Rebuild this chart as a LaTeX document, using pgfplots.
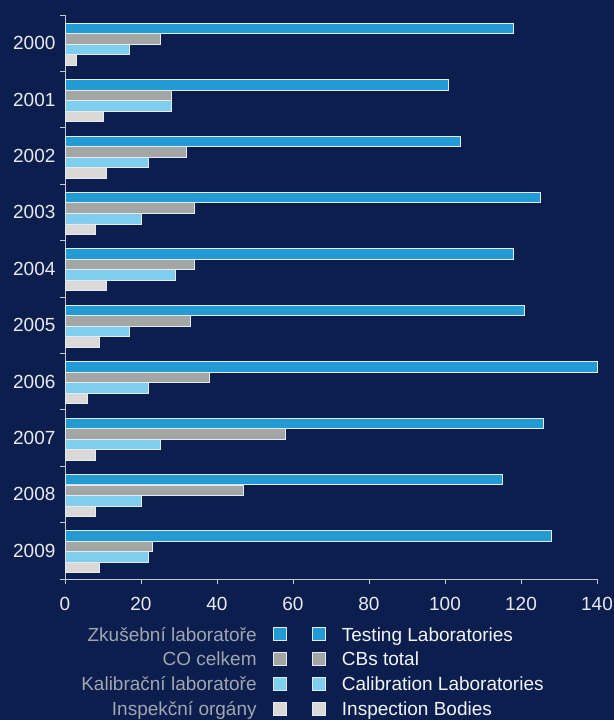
\documentclass[border=0pt]{standalone}
\usepackage{fontspec}
\setmainfont{Liberation Sans}
\usepackage{pgfplots}
\usepackage{pgfplotstable}
\pgfplotsset{compat=1.18}

\definecolor{bgnavy}{RGB}{12,30,77}
\definecolor{ctest}{RGB}{34,155,212}
\definecolor{ccbs}{RGB}{163,166,164}
\definecolor{ccalib}{RGB}{128,206,238}
\definecolor{cinsp}{RGB}{218,217,215}
\definecolor{cedge}{RGB}{228,234,242}
\definecolor{axisgray}{RGB}{196,200,210}
\definecolor{ticktext}{RGB}{232,234,240}
\definecolor{cztext}{RGB}{160,165,176}
\definecolor{entext}{RGB}{242,244,248}

\newcommand\chartfont{\fontsize{19bp}{22bp}\selectfont}

% pos = place on the y axis (2000 at the top)
\pgfplotstableread{
pos year test cbs calib insp
10 2000 118 25 17 3
9  2001 101 28 28 10
8  2002 104 32 22 11
7  2003 125 34 20 8
6  2004 118 34 29 11
5  2005 121 33 17 9
4  2006 140 38 22 6
3  2007 126 58 25 8
2  2008 115 47 20 8
1  2009 128 23 22 9
}\data

\pgfplotsset{
  sqlegend/.style={legend image code/.code={\draw[##1] (0bp,-6.5bp) rectangle (13bp,6.5bp);}},
  barstyle/.style={fill=#1, draw=cedge, line width=0.9bp, sqlegend},
}

\begin{document}
\begin{tikzpicture}
\fill[bgnavy] (0,0) rectangle (614bp,720bp);
\useasboundingbox (0,0) rectangle (614bp,720bp);
\begin{axis}[
    at={(65bp,141bp)}, anchor=south west,
    scale only axis, width=532bp, height=564bp,
    xbar, bar width=0.186,
    xmin=0, xmax=140, ymin=0.5, ymax=10.5,
    clip=false,
    axis lines*=left,
    axis line style={draw=axisgray, line width=0.9bp},
    xtick={0,20,...,140},
    ytick={0.5,1.5,...,10.5},
    y tick label as interval,
    yticklabels={2009,2008,2007,2006,2005,2004,2003,2002,2001,2000},
    tick align=outside,
    major tick length=5bp,
    tick style={draw=axisgray, line width=0.9bp},
    ticklabel style={font=\chartfont, text=ticktext, inner sep=0pt},
    /pgf/number format/assume math mode=true,
    xticklabel style={yshift=-13.5bp},
    yticklabel style={xshift=-4.4bp},
    legend style={at={(0.4643,-0.0845)}, anchor=north west,
      draw=none, fill=none, inner sep=0pt, outer sep=0pt,
      column sep=16bp, row sep=9.3bp,
      font=\chartfont, text=entext,
      nodes={inner sep=0pt, text height=14.5bp, text depth=1bp}},
    legend cell align=left,
  ]
  \addplot[barstyle=ctest,  bar shift=0.261]  table[x=test,  y=pos] {\data};
  \addplot[barstyle=ccbs,   bar shift=0.0745] table[x=cbs,   y=pos] {\data};
  \addplot[barstyle=ccalib, bar shift=-0.112] table[x=calib, y=pos] {\data};
  \addplot[barstyle=cinsp,  bar shift=-0.298] table[x=insp,  y=pos] {\data};
  \legend{Testing Laboratories, CBs total, Calibration Laboratories, Inspection Bodies}
\end{axis}
% Czech legend column
\begin{axis}[
    at={(65bp,141bp)}, anchor=south west,
    scale only axis, width=532bp, height=564bp,
    hide axis, xmin=0, xmax=1, ymin=0, ymax=1,
    sqlegend,
    legend plot pos=right,
    legend cell align=right,
    legend style={at={(0.4164,-0.0845)}, anchor=north east,
      draw=none, fill=none, inner sep=0pt, outer sep=0pt,
      column sep=16bp, row sep=9.3bp,
      font=\chartfont, text=cztext,
      nodes={inner sep=0pt, text height=14.5bp, text depth=1bp}},
  ]
  \addlegendimage{fill=ctest, draw=cedge, line width=0.9bp}
  \addlegendentry{Zkušební laboratoře}
  \addlegendimage{fill=ccbs, draw=cedge, line width=0.9bp}
  \addlegendentry{CO celkem}
  \addlegendimage{fill=ccalib, draw=cedge, line width=0.9bp}
  \addlegendentry{Kalibrační laboratoře}
  \addlegendimage{fill=cinsp, draw=cedge, line width=0.9bp}
  \addlegendentry{Inspekční orgány}
\end{axis}
\end{tikzpicture}
\end{document}
